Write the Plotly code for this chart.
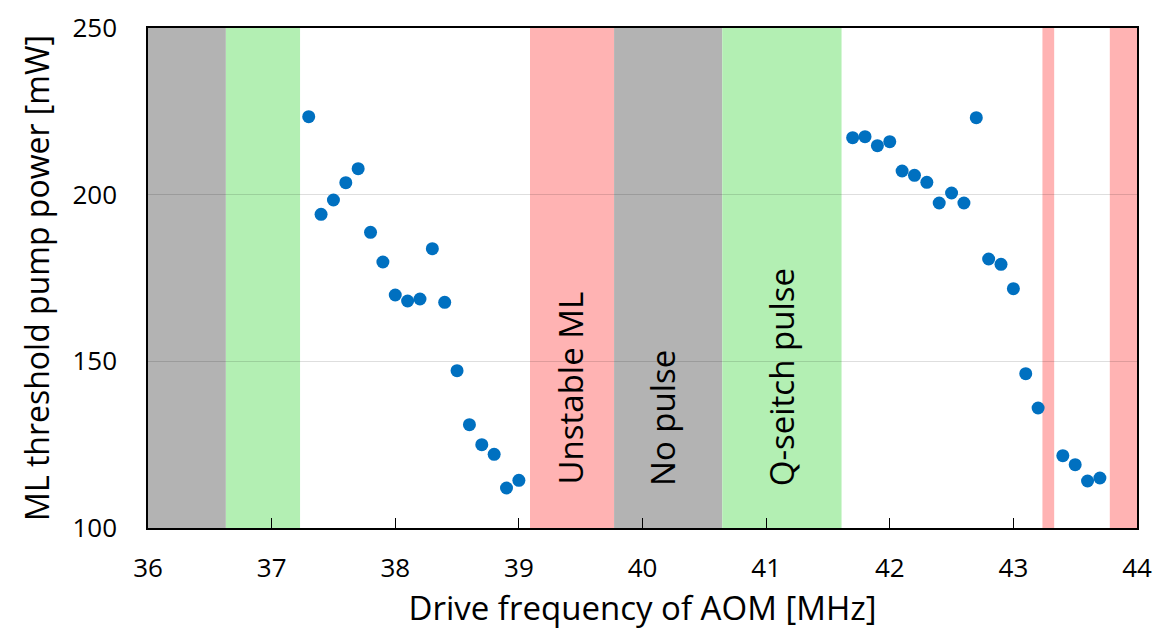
import plotly.graph_objects as go

# Data
freq_low = [37.3, 37.4, 37.5, 37.6, 37.7, 37.8, 37.9, 38.0, 38.1, 38.2, 38.3, 38.4,
            38.5, 38.6, 38.7, 38.8, 38.9, 39.0]
power_low = [223.4, 194.1, 198.4, 203.6, 207.8, 188.7, 179.8, 169.9, 168.1, 168.7, 183.8, 167.7,
             147.2, 131.0, 125.0, 122.1, 112.0, 114.3]
freq_high = [41.7, 41.8, 41.9, 42.0, 42.1, 42.2, 42.3, 42.4, 42.5, 42.6, 42.7, 42.8,
             42.9, 43.0, 43.1, 43.2, 43.4, 43.5, 43.6, 43.7]
power_high = [217.1, 217.4, 214.7, 215.9, 207.1, 205.8, 203.7, 197.5, 200.5, 197.5, 223.1, 180.7,
              179.1, 171.8, 146.3, 136.0, 121.7, 119.0, 114.1, 115.0]

# Shaded regions: (start, end, kind)
region_start = [36.0, 36.63, 39.09, 39.77, 40.645, 43.235, 43.78]
region_end = [36.63, 37.23, 39.77, 40.645, 41.61, 43.33, 44.0]
region_kind = ["none", "q", "unstable", "none", "q", "unstable", "unstable"]

label_text = ["Unstable ML", "No pulse", "Q-seitch pulse"]
label_x = [39.42, 40.16, 41.12]
label_y = [142.1, 133.1, 145.2]

x_ticks = [36, 37, 38, 39, 40, 41, 42, 43, 44]
y_ticks = [100, 150, 200, 250]

kind_color = {"none": "#B3B3B3", "q": "#B3EFB3", "unstable": "#FFB3B3"}

fig = go.Figure()
fig.add_trace(go.Scatter(x=freq_low + freq_high, y=power_low + power_high, mode="markers",
                         marker=dict(color="#0070C0", size=13, line=dict(width=0)),
                         showlegend=False, cliponaxis=False))

for s, e, k in zip(region_start, region_end, region_kind):
    fig.add_shape(type="rect", xref="x", yref="paper", x0=s, x1=e, y0=0, y1=1,
                  fillcolor=kind_color[k], line=dict(width=0), layer="below")

for t, x, y in zip(label_text, label_x, label_y):
    fig.add_annotation(x=x, y=y, xref="x", yref="y", text=t, textangle=-90, showarrow=False,
                       font=dict(family="Open Sans", size=33, color="black"),
                       xanchor="center", yanchor="middle")

font = dict(family="Open Sans", color="black")
fig.update_layout(
    width=1156, height=633,
    margin=dict(l=148, r=19, t=28, b=105),
    plot_bgcolor="white", paper_bgcolor="white",
    font=font,
    xaxis=dict(range=[36, 44], tickvals=x_ticks, ticks="inside", ticklen=10, tickcolor="black",
               showgrid=False, zeroline=False, showline=True, linecolor="black", linewidth=1.5,
               mirror=True, tickfont=dict(size=26), ticklabelstandoff=16, automargin=False,
               title=dict(text="Drive frequency of AOM [MHz]", font=dict(size=33), standoff=10)),
    yaxis=dict(range=[100, 250], tickvals=y_ticks, ticks="", showgrid=True,
               gridcolor="rgba(0,0,0,0.13)", gridwidth=1, zeroline=False, showline=True,
               linecolor="black", linewidth=1.5, mirror=True, tickfont=dict(size=26),
               ticklabelstandoff=24, automargin=False,
               title=dict(text="ML threshold pump power [mW]", font=dict(size=32), standoff=13)),
)

fig.write_html("out.html", config={"displayModeBar": False},
               post_script="document.body.style.margin='0';")
